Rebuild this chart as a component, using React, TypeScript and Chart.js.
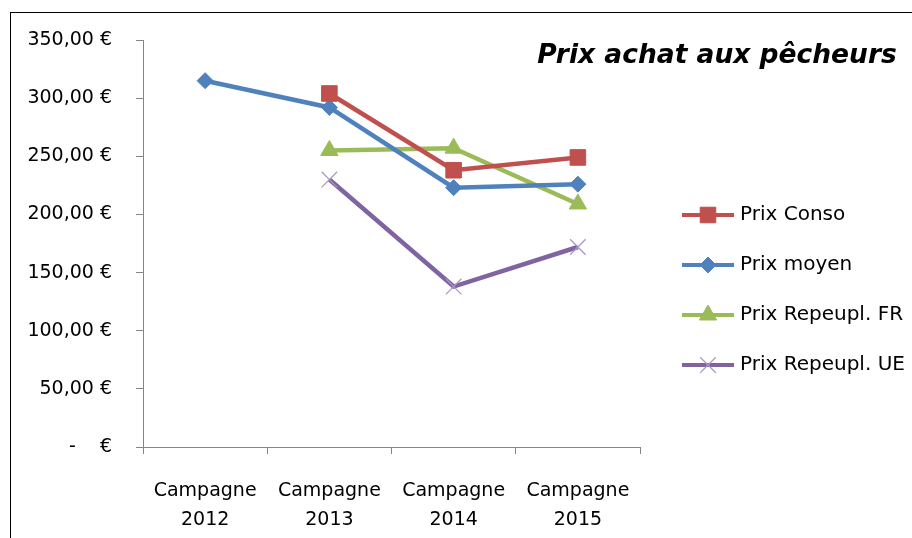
import React, { useEffect, useRef } from "react";
import { Chart, registerables } from "chart.js";
import { drawPoint } from "chart.js/helpers";

Chart.register(...registerables);

const categories = [
  ["Campagne", "2012"],
  ["Campagne", "2013"],
  ["Campagne", "2014"],
  ["Campagne", "2015"],
];
const prixConso = [null, 304, 238, 249];
const prixMoyen = [315, 292, 223, 226];
const prixRepeuplFR = [null, 255, 257, 209];
const prixRepeuplUE = [null, 230, 138, 172];
const seriesNames = ["Prix Conso", "Prix moyen", "Prix Repeupl. FR", "Prix Repeupl. UE"];
const yTickValues = [0, 50, 100, 150, 200, 250, 300, 350];
const yTickLabels = ["-    €", "50,00 €", "100,00 €", "150,00 €", "200,00 €", "250,00 €", "300,00 €", "350,00 €"];
const chartTitle = "Prix achat aux pêcheurs";

const FONT = "'DejaVu Sans', sans-serif";

const overlayPlugin = {
  id: "overlay",
  afterDraw(chart: any) {
    const ctx = chart.ctx;
    ctx.save();
    // title
    ctx.font = `italic bold 26.5px ${FONT}`;
    ctx.fillStyle = "#000";
    ctx.textAlign = "center";
    ctx.textBaseline = "middle";
    ctx.fillText(chartTitle, 717, 56);
    // legend
    chart.data.datasets.forEach((ds: any, i: number) => {
      const y = 215 + i * 50;
      ctx.strokeStyle = ds.borderColor;
      ctx.lineWidth = 4;
      ctx.beginPath();
      ctx.moveTo(682, y);
      ctx.lineTo(734, y);
      ctx.stroke();
      ctx.fillStyle = ds.pointBackgroundColor;
      ctx.strokeStyle = ds.pointBorderColor;
      ctx.lineWidth = ds.pointBorderWidth;
      drawPoint(ctx, { pointStyle: ds.pointStyle, radius: ds.pointRadius, rotation: 0, borderWidth: ds.pointBorderWidth }, 708, y);
      ctx.fillStyle = "#000";
      ctx.font = `20px ${FONT}`;
      ctx.textAlign = "left";
      ctx.textBaseline = "middle";
      ctx.fillText(ds.label, 740, y);
    });
    ctx.restore();
  },
};

export default function App() {
  const ref = useRef<HTMLCanvasElement>(null);
  useEffect(() => {
    if (!ref.current) return;
    const mk = (label: string, data: any[], color: string, style: string, radius: number, pbColor?: string, pbWidth = 1) => ({
      label,
      data,
      borderColor: color,
      backgroundColor: color,
      borderWidth: 4.5,
      pointStyle: style,
      pointRadius: radius,
      pointHoverRadius: radius,
      pointBackgroundColor: color,
      pointBorderColor: pbColor || color,
      pointBorderWidth: pbWidth,
      tension: 0,
      spanGaps: false,
    });
    const chart = new Chart(ref.current, {
      type: "line",
      data: {
        labels: categories,
        datasets: [
          mk(seriesNames[0], prixConso, "#C0504D", "rect", 11),
          mk(seriesNames[1], prixMoyen, "#4F81BD", "rectRot", 8),
          mk(seriesNames[2], prixRepeuplFR, "#9BBB59", "triangle", 10),
          mk(seriesNames[3], prixRepeuplUE, "#8064A2", "crossRot", 11, "#A797C6", 1.2),
        ] as any,
      },
      options: {
        responsive: false,
        animation: false,
        devicePixelRatio: 1,
        layout: { padding: { top: 40, right: 272, bottom: 0, left: 0 } },
        plugins: { legend: { display: false }, title: { display: false }, tooltip: { enabled: false } },
        scales: {
          x: {
            type: "category",
            offset: true,
            grid: { offset: true, drawOnChartArea: false, color: "#868686", tickLength: 7, lineWidth: 1 },
            border: { color: "#868686", width: 1 },
            ticks: { color: "#000", padding: 23, maxRotation: 0, autoSkip: false, font: { family: FONT, size: 19, lineHeight: "29px" } },
            afterFit: (s: any) => { s.height = 91; },
          },
          y: {
            min: 0,
            max: 350,
            afterBuildTicks: (s: any) => { s.ticks = yTickValues.map((v) => ({ value: v })); },
            grid: { drawOnChartArea: false, color: "#868686", tickLength: 7, lineWidth: 1 },
            border: { color: "#868686", width: 1 },
            ticks: {
              color: "#000",
              padding: 24,
              font: { family: FONT, size: 19 },
              callback: (v: any) => yTickLabels[yTickValues.indexOf(Number(v))] ?? "",
            },
            afterFit: (s: any) => { s.width = 143; },
          },
        },
      } as any,
      plugins: [overlayPlugin],
    });
    return () => chart.destroy();
  }, []);
  return (
    <div style={{ position: "absolute", left: 0, top: 0, width: 912, height: 538, background: "#fff", overflow: "hidden" }}>
      <canvas ref={ref} width={912} height={538} style={{ position: "absolute", left: 0, top: 0, width: 912, height: 538 }} />
      <div style={{ position: "absolute", left: 10, top: 12, width: 910, height: 530, borderLeft: "1px solid #000", borderTop: "1px solid #000" }} />
    </div>
  );
}
